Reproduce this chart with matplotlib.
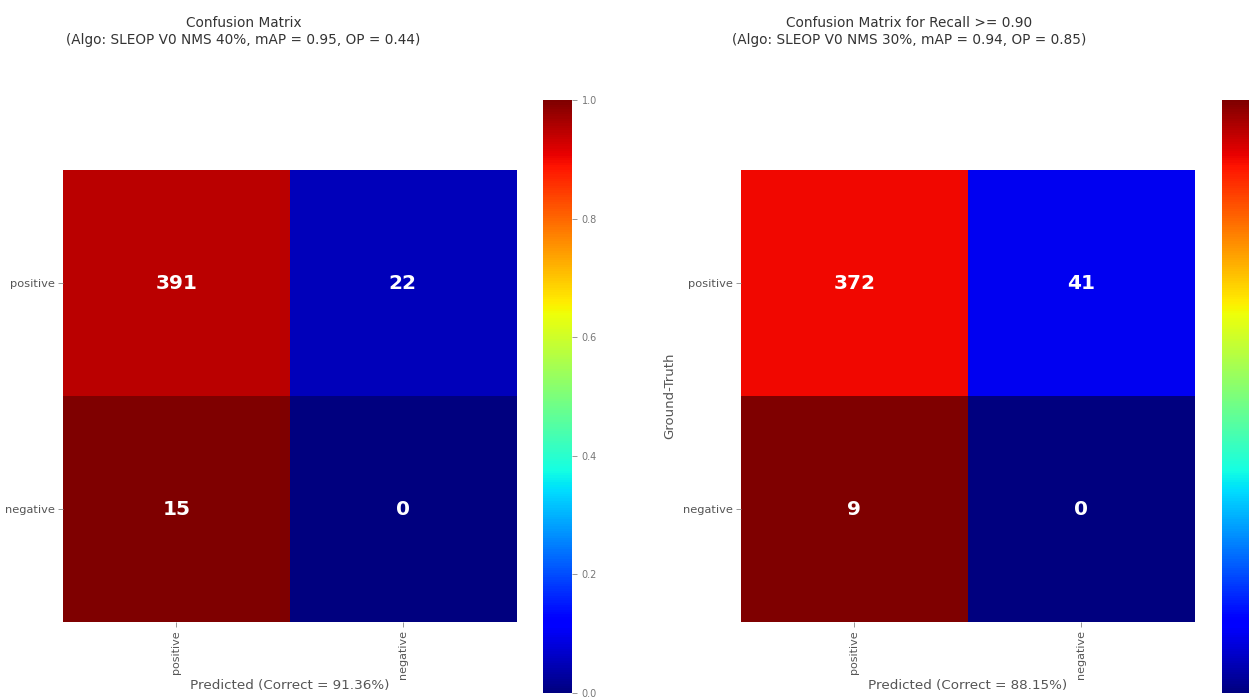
import numpy as np
import matplotlib
matplotlib.use('Agg')
import matplotlib.pyplot as plt

# Class labels and raw counts (rows: ground truth, cols: predicted)
labels = ['positive', 'negative']
counts_left = [[391, 22], [15, 0]]
counts_right = [[372, 41], [9, 0]]

title_left = 'Confusion Matrix\n(Algo: SLEOP V0 NMS 40%, mAP = 0.95, OP = 0.44)'
title_right = 'Confusion Matrix for Recall >= 0.90\n(Algo: SLEOP V0 NMS 30%, mAP = 0.94, OP = 0.85)'
xlabel_left = 'Predicted (Correct = 91.36%)'
xlabel_right = 'Predicted (Correct = 88.15%)'
cbar_ticks = [0.0, 0.2, 0.4, 0.6, 0.8, 1.0]

TXT = '#555555'


def row_normalize(counts):
    c = np.array(counts, dtype=float)
    s = c.sum(axis=1, keepdims=True)
    s[s == 0] = 1
    return c / s


def draw_matrix(fig, ax_rect, cax_rect, counts, xlabel, ylabel=None, cbar_labels=True):
    ax = fig.add_axes(ax_rect)
    norm = row_normalize(counts)
    im = ax.imshow(norm, cmap='jet', vmin=0, vmax=1, aspect='auto',
                   interpolation='nearest')
    for i in range(len(labels)):
        for j in range(len(labels)):
            ax.text(j, i, str(counts[i][j]), ha='center', va='center',
                    color='white', fontsize=14.5, fontweight='bold')
    ax.set_xticks(range(len(labels)))
    ax.set_yticks(range(len(labels)))
    ax.set_xticklabels(labels, rotation=90, fontsize=8, color=TXT)
    ax.set_yticklabels(labels, fontsize=8.2, color=TXT)
    ax.tick_params(length=3.5, width=0.6, color='#888888', pad=2.5)
    for sp in ax.spines.values():
        sp.set_visible(False)
    ax.set_xlabel(xlabel, fontsize=9.7, color=TXT, labelpad=0)
    if ylabel:
        ax.set_ylabel(ylabel, fontsize=9.5, color=TXT, labelpad=5)

    cax = fig.add_axes(cax_rect)
    cb = fig.colorbar(im, cax=cax, ticks=cbar_ticks)
    cb.outline.set_visible(False)
    cb.ax.tick_params(labelsize=7, colors='#888888', length=3.5, width=0.6)
    for t in cb.ax.get_yticklabels():
        t.set_color('#777777')
    if not cbar_labels:
        cb.ax.tick_params(labelright=False, right=False)
    return ax


fig = plt.figure(figsize=(12.49, 7.0), dpi=100)

draw_matrix(fig, [0.0504, 0.1114, 0.3627, 0.6457], [0.4347, 0.010, 0.0232, 0.847],
            counts_left, xlabel_left)
# right colorbar runs off the right edge in the reference, its labels are not visible
draw_matrix(fig, [0.5933, 0.1114, 0.3627, 0.6457], [0.9784, 0.010, 0.0232, 0.847],
            counts_right, xlabel_right, ylabel='Ground-Truth', cbar_labels=False)

fig.text(0.195, 0.977, title_left, ha='center', va='top', fontsize=9.8, color='#333333',
         linespacing=1.25)
fig.text(0.728, 0.977, title_right, ha='center', va='top', fontsize=9.8, color='#333333',
         linespacing=1.25)

fig.savefig('out.png', dpi=100)
